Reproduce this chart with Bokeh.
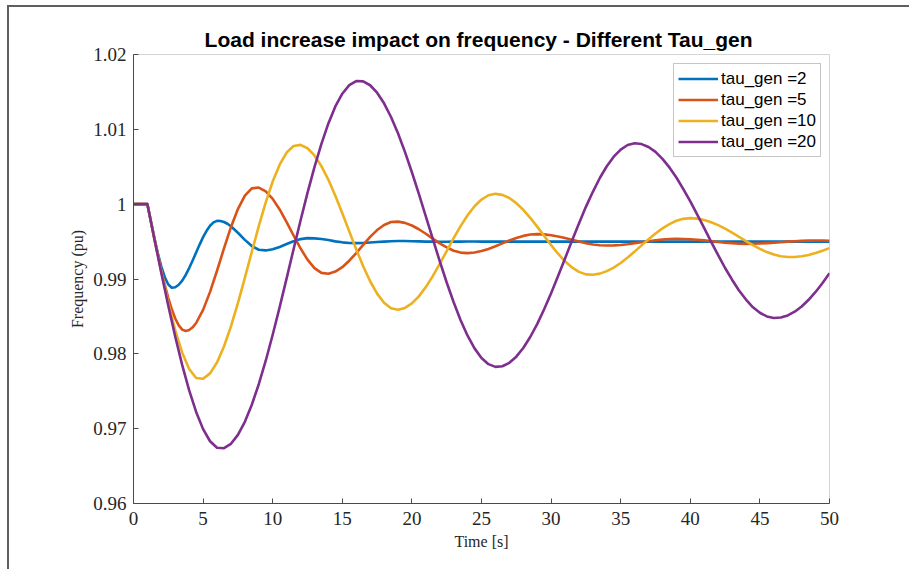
import numpy as np
from bokeh.plotting import figure
from bokeh.models import Range1d, FixedTicker, Legend, LegendItem
from bokeh.embed import file_html
from bokeh.resources import INLINE

# ---------------- data ----------------
title_text = "Load increase  impact on frequency - Different Tau_gen"
x_label = "Time [s]"
y_label = "Frequency (pu)"
x_ticks = [0, 5, 10, 15, 20, 25, 30, 35, 40, 45, 50]
y_ticks = [0.96, 0.97, 0.98, 0.99, 1.00, 1.01, 1.02]
y_tick_labels = ["0.96", "0.97", "0.98", "0.99", "1", "1.01", "1.02"]

series_names = ["tau_gen =2", "tau_gen =5", "tau_gen =10", "tau_gen =20"]
series_colors = ["#0072BD", "#D95319", "#EDB120", "#7E2F8E"]

# tau_gen = 2 : t = 0, 0.5, then 1..7 every 0.25 s, then 7.5..50 every 0.5 s
t_tau2 = [0, 0.5] + list(np.arange(1.0, 7.01, 0.25)) + list(np.arange(7.5, 50.01, 0.5))
f_tau2 = [
    1.0, 1.0,
    1.0, 0.99769, 0.99547, 0.99343, 0.99165, 0.99024, 0.98927, 0.98884, 0.98890, 0.98923,
    0.98978, 0.99054, 0.99146, 0.99248, 0.99355, 0.99460, 0.99559, 0.99644, 0.99711, 0.99756,
    0.99777, 0.99775, 0.99762, 0.99738, 0.99704,
    0.99618, 0.99523, 0.99440, 0.99391, 0.99382, 0.99398, 0.99428, 0.99467, 0.99504, 0.99533,
    0.99546, 0.99543, 0.99534, 0.99520, 0.99503, 0.99490, 0.99481, 0.99480, 0.99482, 0.99487,
    0.99494, 0.99500, 0.99505, 0.99508, 0.99507, 0.99505, 0.99503, 0.99500, 0.99499, 0.99498,
    0.99498, 0.99499, 0.99500, 0.99501, 0.99501,
    0.99500, 0.99500, 0.99500, 0.99500, 0.99500, 0.99500, 0.99500, 0.99500, 0.99500, 0.99500,
    0.99500, 0.99500, 0.99500, 0.99500, 0.99500, 0.99500, 0.99500, 0.99500, 0.99500, 0.99500,
    0.99500, 0.99500, 0.99500, 0.99500, 0.99500, 0.99500, 0.99500, 0.99500, 0.99500, 0.99500,
    0.99500, 0.99500, 0.99500, 0.99500, 0.99500, 0.99500, 0.99500, 0.99500, 0.99500, 0.99500,
    0.99500, 0.99500, 0.99500, 0.99500, 0.99500, 0.99500, 0.99500, 0.99500, 0.99500, 0.99500,
    0.99500,
]

# tau_gen = 5 : 0..2 every 0.5 s, 2..4.5 every 0.25 s, then 5..50 every 0.5 s
t_tau5 = [0, 0.5, 1.0, 1.5, 2.0, 2.25, 2.5, 2.75, 3.0, 3.25, 3.5, 3.75, 4.0, 4.25, 4.5] + list(np.arange(5.0, 50.01, 0.5))
f_tau5 = [
    1.0, 1.0, 1.0, 0.99540, 0.99111, 0.98919, 0.98745, 0.98595, 0.98472, 0.98380,
    0.98323, 0.98305, 0.98318, 0.98354, 0.98412,
    0.98587, 0.98828, 0.99110, 0.99408, 0.99692, 0.99935, 1.00113, 1.00211, 1.00222, 1.00171,
    1.00071, 0.99929, 0.99761, 0.99581, 0.99409, 0.99259, 0.99146, 0.99082, 0.99071, 0.99099,
    0.99158, 0.99244, 0.99346, 0.99456, 0.99562, 0.99654, 0.99722, 0.99761, 0.99767, 0.99750,
    0.99715, 0.99665, 0.99605, 0.99540, 0.99477, 0.99422, 0.99378, 0.99353, 0.99346, 0.99354,
    0.99373, 0.99402, 0.99437, 0.99476, 0.99515, 0.99549, 0.99576, 0.99594, 0.99600, 0.99596,
    0.99585, 0.99568, 0.99547, 0.99524, 0.99500, 0.99479, 0.99462, 0.99451, 0.99447, 0.99449,
    0.99455, 0.99465, 0.99478, 0.99491, 0.99505, 0.99517, 0.99528, 0.99534, 0.99537, 0.99535,
    0.99531, 0.99524, 0.99516, 0.99505, 0.99495, 0.99485, 0.99478, 0.99472, 0.99470, 0.99471,
    0.99474, 0.99479, 0.99485, 0.99492, 0.99499, 0.99505, 0.99510, 0.99513, 0.99515, 0.99514,
    0.99512,
]

# tau_gen = 10 : every 0.5 s
t_tau10 = list(np.arange(0, 50.01, 0.5))
f_tau10 = [
    1.0, 1.0, 1.0, 0.99538, 0.99092, 0.98678, 0.98314, 0.98015, 0.97797, 0.97677,
    0.97666, 0.97739, 0.97885, 0.98098, 0.98367, 0.98677, 0.99015, 0.99364, 0.99706, 1.00024,
    1.00303, 1.00528, 1.00690, 1.00778, 1.00792, 1.00747, 1.00651, 1.00508, 1.00326, 1.00112,
    0.99879, 0.99636, 0.99396, 0.99171, 0.98970, 0.98805, 0.98683, 0.98610, 0.98589, 0.98613,
    0.98674, 0.98768, 0.98892, 0.99039, 0.99203, 0.99374, 0.99545, 0.99706, 0.99851, 0.99972,
    1.00062, 1.00119, 1.00138, 1.00124, 1.00082, 1.00014, 0.99925, 0.99818, 0.99700, 0.99576,
    0.99453, 0.99338, 0.99237, 0.99155, 0.99095, 0.99062, 0.99057, 0.99072, 0.99105, 0.99153,
    0.99214, 0.99287, 0.99366, 0.99449, 0.99530, 0.99608, 0.99677, 0.99734, 0.99778, 0.99804,
    0.99813, 0.99807, 0.99789, 0.99759, 0.99720, 0.99673, 0.99620, 0.99564, 0.99507, 0.99453,
    0.99403, 0.99360, 0.99327, 0.99304, 0.99293, 0.99294, 0.99303, 0.99321, 0.99346, 0.99377,
    0.99413,
]

# tau_gen = 20 : every 0.5 s
t_tau20 = list(np.arange(0, 50.01, 0.5))
f_tau20 = [
    1.0, 1.0, 1.0, 0.99536, 0.99081, 0.98643, 0.98229, 0.97849, 0.97511, 0.97224,
    0.96994, 0.96832, 0.96745, 0.96739, 0.96798, 0.96917, 0.97092, 0.97320, 0.97594, 0.97908,
    0.98255, 0.98625, 0.99009, 0.99398, 0.99781, 1.00150, 1.00494, 1.00805, 1.01079, 1.01306,
    1.01476, 1.01590, 1.01645, 1.01641, 1.01589, 1.01490, 1.01348, 1.01165, 1.00947, 1.00699,
    1.00426, 1.00137, 0.99837, 0.99535, 0.99238, 0.98953, 0.98689, 0.98450, 0.98242, 0.98073,
    0.97945, 0.97862, 0.97826, 0.97834, 0.97880, 0.97962, 0.98078, 0.98225, 0.98397, 0.98596,
    0.98811, 0.99039, 0.99274, 0.99510, 0.99741, 0.99964, 1.00165, 1.00350, 1.00507, 1.00635,
    1.00730, 1.00791, 1.00814, 1.00803, 1.00764, 1.00698, 1.00606, 1.00491, 1.00356, 1.00202,
    1.00036, 0.99860, 0.99679, 0.99497, 0.99319, 0.99147, 0.98991, 0.98847, 0.98725, 0.98622,
    0.98549, 0.98500, 0.98479, 0.98485, 0.98513, 0.98563, 0.98633, 0.98722, 0.98827, 0.98947,
    0.99077,
]

# ---------------- figure ----------------
p = figure(
    width=909, height=569,
    output_backend="svg", toolbar_location=None,
    x_range=Range1d(0, 50), y_range=Range1d(0.96, 1.02),
    min_border_left=133, min_border_right=80,
    min_border_top=54, min_border_bottom=66,
)
# window edge of the original figure: a grey line along the left and top,
# painted as the page background behind a transparent border area
p.styles = {
    "background": ("linear-gradient(#5f5f5f, #5f5f5f) 7px 5px / 2px 700px no-repeat, "
                   "linear-gradient(#5f5f5f, #5f5f5f) 7px 5px / 1000px 2px no-repeat, #ffffff"),
}
p.background_fill_color = "white"
p.border_fill_color = None
p.outline_line_color = "#d4d4d4"
p.outline_line_width = 1
p.xgrid.visible = False
p.ygrid.visible = False

p.title.text = title_text
p.title.align = "center"
p.title.text_font = "Liberation Sans"
p.title.text_font_style = "bold"
p.title.text_font_size = "21px"
p.title.text_color = "#000000"
p.title.standoff = 8

for ax in (p.xaxis[0], p.yaxis[0]):
    ax.axis_line_color = "#4a4a4a"
    ax.axis_line_width = 1
    ax.major_tick_line_color = "#4a4a4a"
    ax.major_tick_in = 5
    ax.major_tick_out = 0
    ax.minor_tick_line_color = None
    ax.major_label_text_font = "Liberation Serif"
    ax.major_label_text_font_size = "19px"
    ax.major_label_text_color = "#262626"
    ax.axis_label_text_font = "Liberation Serif"
    ax.axis_label_text_font_style = "normal"
    ax.axis_label_text_font_size = "16px"
    ax.axis_label_text_color = "#262626"

p.xaxis.ticker = FixedTicker(ticks=x_ticks)
p.yaxis.ticker = FixedTicker(ticks=y_ticks)
p.yaxis.major_label_overrides = {t: s for t, s in zip(y_ticks, y_tick_labels)}
p.xaxis.axis_label = x_label
p.yaxis.axis_label = y_label
p.xaxis.major_label_standoff = 8
p.yaxis.major_label_standoff = 7
p.xaxis.axis_label_standoff = 5
p.yaxis.axis_label_standoff = 4

all_t = [t_tau2, t_tau5, t_tau10, t_tau20]
all_f = [f_tau2, f_tau5, f_tau10, f_tau20]
items = []
for name, col, tt, ff in zip(series_names, series_colors, all_t, all_f):
    r = p.line(tt, ff, line_color=col, line_width=2.6, line_join="round")
    items.append(LegendItem(label=name, renderers=[r]))

legend = Legend(items=items, location=(540, 346))
legend.label_text_font = "Liberation Sans"
legend.label_text_font_size = "17px"
legend.label_text_color = "#000000"
legend.glyph_width = 40
legend.glyph_height = 21
legend.label_height = 21
legend.label_width = 94
legend.spacing = 0
legend.padding = 4
legend.margin = 0
legend.label_standoff = 3
legend.border_line_color = "#8c8c8c"
legend.border_line_width = 1
legend.background_fill_color = "white"
legend.background_fill_alpha = 1.0
p.add_layout(legend)

open("out.html", "w").write(file_html(p, INLINE))
